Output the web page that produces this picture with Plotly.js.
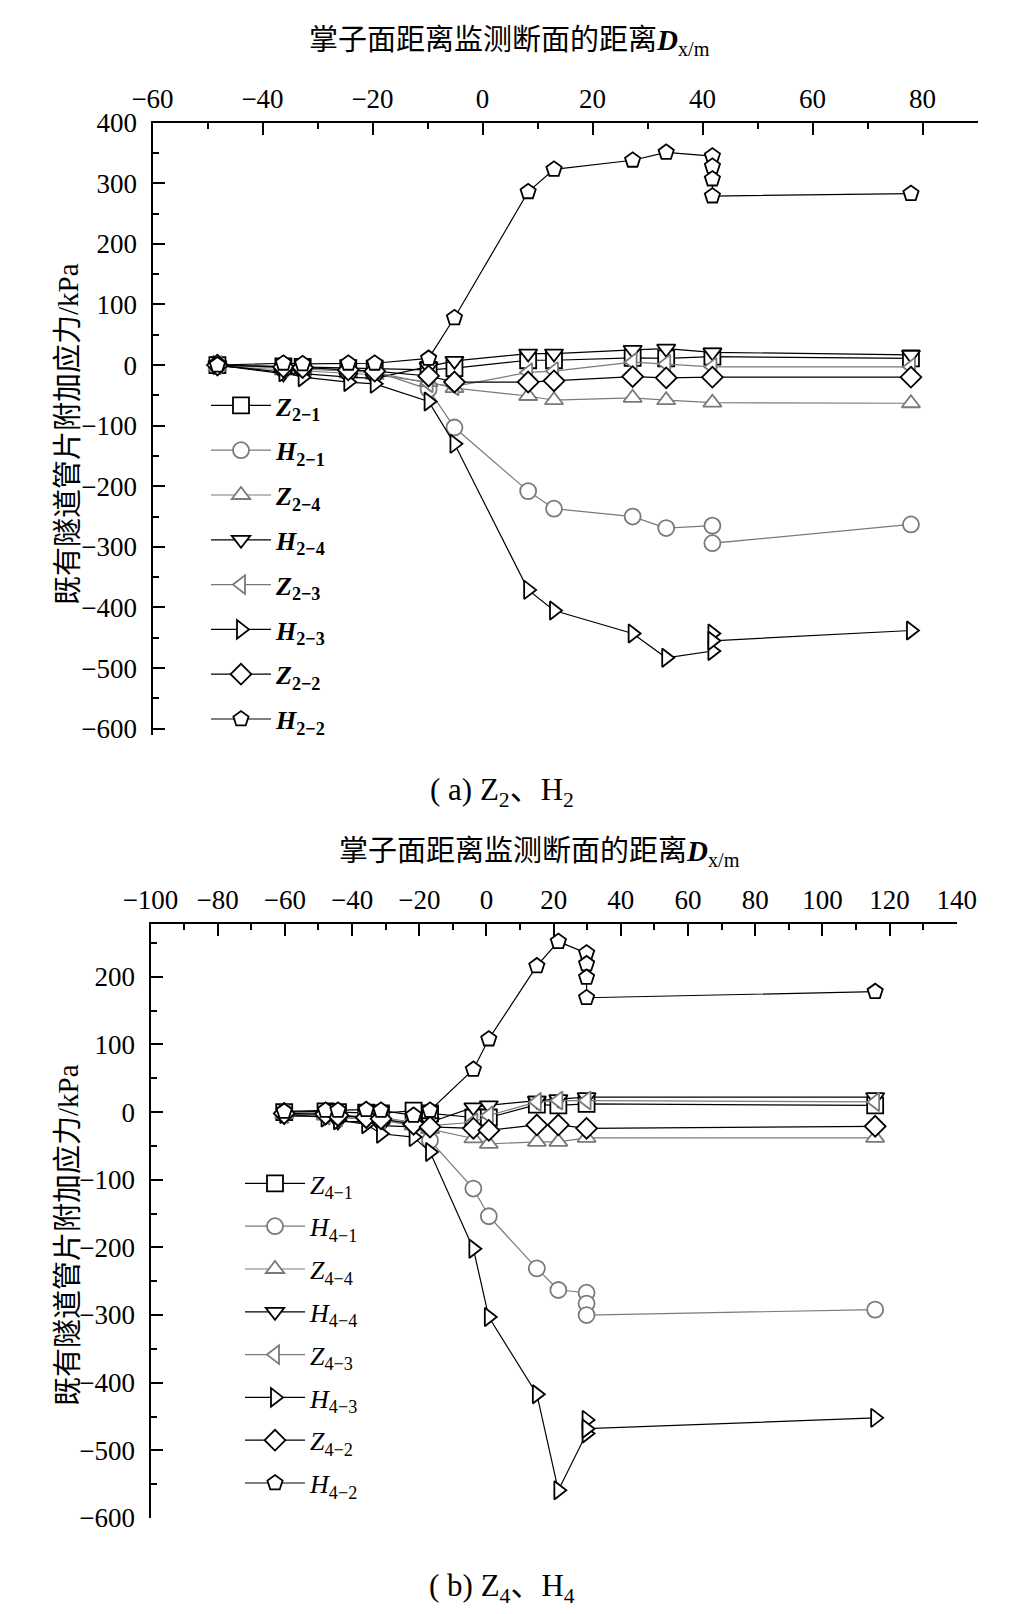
<!DOCTYPE html>
<html>
<head>
<meta charset="utf-8">
<script src="https://cdn.plot.ly/plotly-3.0.1.min.js"></script>
<style>
  body { margin: 0; background: #fff; }
  #grafica { width: 1022px; height: 1614px; }
</style>
</head>
<body>
<div id="grafica"></div>
<script>
// (a) Z2、H2 — distancia del frente al corte de medida (m) y esfuerzo adicional (kPa)
const xA = [-48.2, -36.2, -32.7, -24.4, -19.6, -9.8, -5.1, 8.3, 13.0, 27.3, 33.4, 41.8, 77.9];
const xA2 = [-48.2, -36.2, -32.7, -24.4, -19.6, -9.8, -5.1, 8.3, 13.0, 27.3, 33.4, 41.8, 41.8, 77.9];
const xA3 = [-48.2, -36.2, -32.7, -24.4, -19.6, -9.8, -5.1, 8.3, 13.0, 27.3, 33.4, 41.8, 41.8, 41.8, 77.9];
const xA4 = [-48.2, -36.2, -32.7, -24.4, -19.6, -9.8, -5.1, 8.3, 13.0, 27.3, 33.4, 41.8, 41.8, 41.8, 41.8, 77.9];

const z21 = [0, -2, -3, -5, -6, -8, -5, 8, 8, 12, 11, 14, 11];
const h21 = [0, -3, -5, -8, -10, -40, -103, -208, -237, -250, -269, -265, -294, -263];
const z24 = [-2, -8, -10, -14, -16, -28, -38, -51, -58, -54, -58, -62, -63];
const h24 = [0, -14, -14, -20, -22, -3, 7, 19, 19, 25, 27, 21, 17];
const z23 = [0, -5, -6, -10, -12, -30, -35, -12, -10, 5, 2, -3, -3];
const h23 = [0, -12, -20, -28, -31, -60, -130, -371, -405, -443, -483, -472, -443, -455, -438];
const z22 = [0, -3, -4, -8, -10, -18, -28, -28, -26, -19, -21, -20, -20];
const h22 = [0, 3, 2, 3, 3, 11, 78, 286, 323, 338, 351, 345, 328, 307, 279, 283];

// (b) Z4、H4
const xB = [-60.2, -47.9, -44.2, -35.8, -31.4, -21.7, -16.8, -3.9, 0.7, 15.0, 21.4, 29.8, 115.7];
const xB3 = [-60.2, -47.9, -44.2, -35.8, -31.4, -21.7, -16.8, -3.9, 0.7, 15.0, 21.4, 29.8, 29.8, 29.8, 115.7];
const xB4 = [-60.2, -47.9, -44.2, -35.8, -31.4, -21.7, -16.8, -3.9, 0.7, 15.0, 21.4, 29.8, 29.8, 29.8, 29.8, 115.7];

const z41 = [0, 1, 0, -1, -2, 2, -2, -8, -8, 11, 10, 12, 10];
const h41 = [0, -2, -4, -6, -8, -15, -42, -113, -154, -231, -263, -267, -283, -300, -292];
const z44 = [-3, -5, -7, -10, -12, -20, -25, -39, -47, -44, -44, -38, -38];
const h44 = [-6, -6, -14, -14, -20, -22, -15, 7, 10, 17, 19, 22, 22];
const z43 = [-3, -5, -8, -10, -12, -15, -20, -15, -5, 15, 17, 17, 15];
const h43 = [-3, -8, -12, -18, -32, -37, -59, -202, -303, -417, -559, -475, -455, -468, -452];
const z42 = [-2, -3, -5, -8, -10, -18, -22, -24, -27, -19, -19, -24, -21];
const h42 = [1, 2.5, 2.5, 3.5, 2.5, -5, 2.5, 63, 108, 216, 252, 235, 219, 199, 169, 178];

const nombres = ["Z", "H", "Z", "H", "Z", "H", "Z", "H"];
const subA = ["2−1", "2−1", "2−4", "2−4", "2−3", "2−3", "2−2", "2−2"];
const subB = ["4−1", "4−1", "4−4", "4−4", "4−3", "4−3", "4−2", "4−2"];
const simbolos = ["square", "circle", "triangle-up", "triangle-down", "triangle-left", "triangle-right", "diamond", "pentagon"];
const colores = ["#000000", "#7a7a7a", "#7a7a7a", "#000000", "#7a7a7a", "#000000", "#000000", "#000000"];

const FUENTE = "Liberation Serif, Times New Roman, Noto Sans CJK SC, serif";
const TITULO_X = "掌子面距离监测断面的距离<b><i>D</i></b><sub>x/m</sub>";
const TITULO_Y = "既有隧道管片附加应力/kPa";

function serie(x, y, i, panel) {
  const a = panel === "a";
  const nombre = a
    ? `<b><i>${nombres[i]}</i><sub>${subA[i]}</sub></b>`
    : `<i>${nombres[i]}</i><sub>${subB[i]}</sub>`;
  return {
    type: "scatter",
    mode: "lines+markers",
    x: x,
    y: y,
    name: nombre,
    xaxis: a ? "x" : "x2",
    yaxis: a ? "y" : "y2",
    legend: a ? "legend" : "legend2",
    legendgroup: panel + i,
    line: { color: colores[i], width: 1.2 },
    marker: {
      symbol: simbolos[i],
      size: 16,
      color: "#ffffff",
      line: { color: colores[i], width: 1.8 }
    }
  };
}

const datos = [
  serie(xA, z21, 0, "a"),
  serie(xA2, h21, 1, "a"),
  serie(xA, z24, 2, "a"),
  serie(xA, h24, 3, "a"),
  serie(xA, z23, 4, "a"),
  serie(xA3, h23, 5, "a"),
  serie(xA, z22, 6, "a"),
  serie(xA4, h22, 7, "a"),
  serie(xB, z41, 0, "b"),
  serie(xB3, h41, 1, "b"),
  serie(xB, z44, 2, "b"),
  serie(xB, h44, 3, "b"),
  serie(xB, z43, 4, "b"),
  serie(xB3, h43, 5, "b"),
  serie(xB, z42, 6, "b"),
  serie(xB4, h42, 7, "b")
];

const W = 1022, H = 1614;

const comunEje = {
  ticks: "inside",
  ticklen: 12,
  tickwidth: 2,
  tickcolor: "#000",
  showline: true,
  linewidth: 2,
  linecolor: "#000",
  showgrid: false,
  zeroline: false,
  tickfont: { family: FUENTE, size: 27, color: "#000" }
};

const ejeX = (rango, dominio, ancla) => ({
  ...comunEje,
  range: rango,
  domain: dominio,
  anchor: ancla,
  side: "top",
  dtick: 20,
  ticklabelstandoff: 2,
  minor: { dtick: 10, ticks: "inside", ticklen: 6, tickwidth: 2, tickcolor: "#000" }
});

const ejeY = (rango, dominio, ancla) => ({
  ...comunEje,
  range: rango,
  domain: dominio,
  anchor: ancla,
  dtick: 100,
  ticklabelstandoff: 8,
  minor: { dtick: 50, ticks: "inside", ticklen: 6, tickwidth: 2, tickcolor: "#000" }
});

const leyenda = (x, y, gap) => ({
  x: x,
  y: y,
  xanchor: "left",
  yanchor: "top",
  bgcolor: "rgba(0,0,0,0)",
  font: { family: FUENTE, size: 26, color: "#000" },
  itemwidth: 60,
  tracegroupgap: gap
});

const texto = (t, x, y, size, angulo) => ({
  text: t,
  xref: "paper", yref: "paper",
  x: x / W, y: 1 - y / H,
  xanchor: "center", yanchor: "middle",
  textangle: angulo || 0,
  showarrow: false,
  font: { family: FUENTE, size: size, color: "#000" }
});

const layout = {
  width: W,
  height: H,
  margin: { l: 0, r: 0, t: 0, b: 0 },
  paper_bgcolor: "#fff",
  plot_bgcolor: "#fff",
  showlegend: true,
  xaxis: ejeX([-60, 90], [152.5 / W, 977.5 / W], "y"),
  yaxis: ejeY([-610, 400], [1 - 734.7 / H, 1 - 122.7 / H], "x"),
  xaxis2: ejeX([-100, 140], [150.5 / W, 956.8 / W], "y2"),
  yaxis2: ejeY([-600, 278], [1 - 1518 / H, 1 - 924 / H], "x2"),
  legend: leyenda(206 / W, 1 - 382 / H, 8),
  legend2: leyenda(240 / W, 1 - 1160 / H, 6),
  annotations: [
    texto(TITULO_X, 509, 42, 29),
    texto(TITULO_Y, 68, 434, 29, -90),
    texto(TITULO_X, 539, 853, 29),
    texto(TITULO_Y, 68, 1235, 29, -90),
    texto("( a) Z<sub>2</sub>、H<sub>2</sub>", 502, 792, 31),
    texto("( b) Z<sub>4</sub>、H<sub>4</sub>", 502, 1588, 31)
  ]
};

Plotly.newPlot("grafica", datos, layout, { staticPlot: true });
</script>
</body>
</html>
